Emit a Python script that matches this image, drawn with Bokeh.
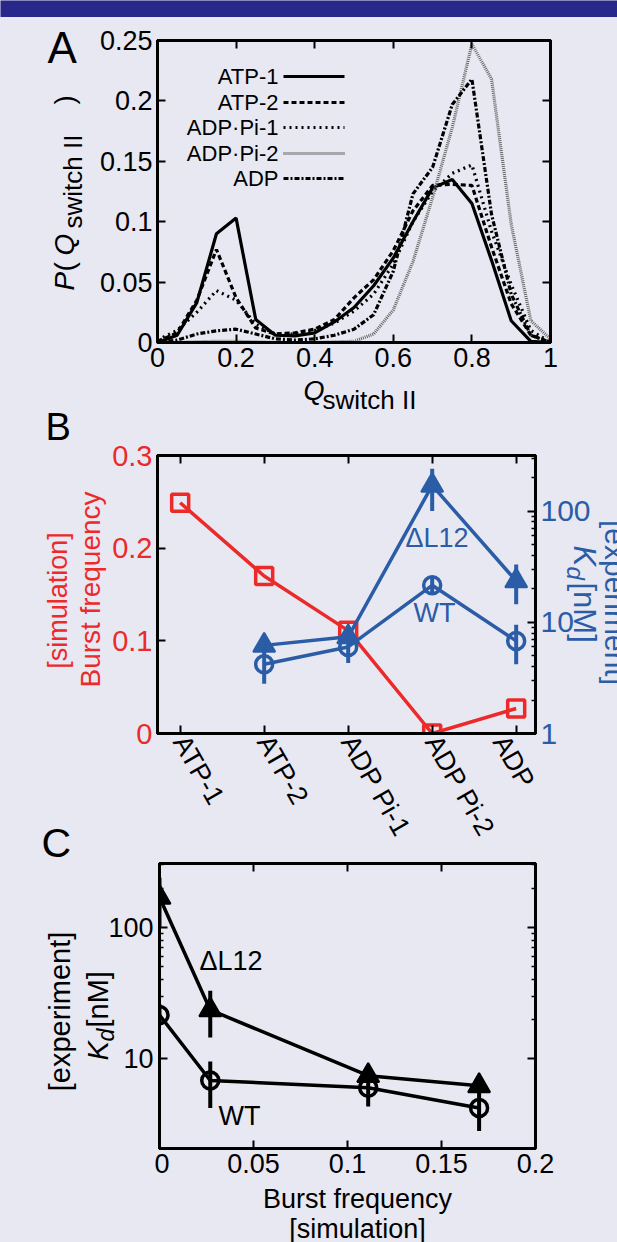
import math
from bokeh.plotting import figure
from bokeh.models import (Label, Range1d, LinearAxis, LogScale,
                          FixedTicker, PrintfTickFormatter)
from bokeh.core.properties import value
from bokeh.layouts import column, row
from bokeh.embed import file_html
from bokeh.resources import INLINE

BG = "#e8e8f2"
NAVY = "#28288a"
RED = "#ec2a2a"
BLUE = "#2b5ca6"
FONT = "Liberation Sans"

# ---------------- Panel A data ----------------
q_switch = [0.0, 0.05, 0.1, 0.15, 0.2, 0.25, 0.3, 0.35, 0.4, 0.45, 0.5,
            0.55, 0.6, 0.65, 0.7, 0.75, 0.8, 0.85, 0.9, 0.95, 1.0]
p_atp1 = [0.0, 0.006, 0.033, 0.09, 0.103, 0.019, 0.006, 0.0055, 0.008, 0.017, 0.029,
          0.047, 0.07, 0.1, 0.128, 0.135, 0.115, 0.068, 0.018, 0.001, 0.0]
p_atp2 = [0.001, 0.008, 0.035, 0.077, 0.037, 0.012, 0.007, 0.008, 0.011, 0.019, 0.037,
          0.052, 0.076, 0.109, 0.13, 0.131, 0.13, 0.079, 0.032, 0.006, 0.0]
p_adppi1 = [0.002, 0.01, 0.025, 0.043, 0.035, 0.015, 0.007, 0.007, 0.01, 0.016, 0.026,
            0.04, 0.065, 0.1, 0.125, 0.14, 0.147, 0.092, 0.048, 0.01, 0.0]
p_adppi2 = [0.0, 0.0, 0.0005, 0.001, 0.001, 0.0005, 0.0, 0.0, 0.0, 0.0005, 0.001,
            0.007, 0.027, 0.067, 0.12, 0.178, 0.247, 0.218, 0.098, 0.018, 0.003]
p_adp = [0.0, 0.002, 0.007, 0.0097, 0.011, 0.007, 0.003, 0.002, 0.003, 0.006, 0.011,
         0.023, 0.059, 0.123, 0.145, 0.197, 0.218, 0.106, 0.04, 0.006, 0.0]
series_names = ["ATP-1", "ATP-2", "ADP\u00b7Pi-1", "ADP\u00b7Pi-2", "ADP"]
a_xticks = [0, 0.2, 0.4, 0.6, 0.8, 1]
a_yticks = [0, 0.05, 0.1, 0.15, 0.2, 0.25]

# ---------------- Panel B / C data ----------------
states = ["ATP-1", "ATP-2", "ADP Pi-1", "ADP Pi-2", "ADP"]
burst = [0.249, 0.170, 0.111, 0.0, 0.027]
kd_states = ["ATP-2", "ADP Pi-1", "ADP Pi-2", "ADP"]
kd_wt = [4.2, 6.0, 21.5, 6.8]
kd_wt_lo = [2.8, 4.3, 18.0, 4.2]
kd_wt_hi = [5.7, 8.0, 26.0, 9.5]
kd_dl = [6.2, 7.4, 170.0, 23.5]
kd_dl_lo = [5.4, 6.5, 100.0, 14.5]
kd_dl_hi = [7.0, 8.5, 240.0, 33.0]
b_yticks = [0, 0.1, 0.2, 0.3]
kd_ticks = [1, 10, 100]
kd_tick_labels = ["1", "10", "100"]
kd_minor = [2, 3, 4, 5, 6, 7, 8, 9, 20, 30, 40, 50, 60, 70, 80, 90, 200, 300]
c_xticks = [0, 0.05, 0.1, 0.15, 0.2]

UP = math.pi / 2
DOWN = -math.pi / 2
MID = 0.35  # distance (em) from alphabetic baseline to the text's middle


def to_mid(px, py, size, angle):
    d = MID * size
    if angle == UP:
        return px - d, py
    if angle == DOWN:
        return px + d, py
    return px, py - d


class Geo:
    """Frame box in page pixels + data ranges."""
    def __init__(self, left, right, top, bottom, xr, yr, ylog=False):
        self.left, self.right, self.top, self.bottom = left, right, top, bottom
        self.xr, self.yr, self.ylog = xr, yr, ylog

    def x(self, px):
        return self.xr[0] + (px - self.left) / (self.right - self.left) * (self.xr[1] - self.xr[0])

    def y(self, py):
        f = (self.bottom - py) / (self.bottom - self.top)
        if self.ylog:
            a, b = math.log10(self.yr[0]), math.log10(self.yr[1])
            return 10 ** (a + f * (b - a))
        return self.yr[0] + f * (self.yr[1] - self.yr[0])


def plot_fig(g, X0, Y0, X1, Y1):
    p = figure(width=X1 - X0, height=Y1 - Y0, title=None,
               x_range=Range1d(*g.xr), y_range=Range1d(*g.yr),
               y_axis_type="log" if g.ylog else "linear",
               output_backend="svg", toolbar_location=None,
               min_border_left=g.left - X0, min_border_right=X1 - g.right,
               min_border_top=g.top - Y0, min_border_bottom=Y1 - g.bottom,
               background_fill_color=BG, border_fill_color=BG,
               outline_line_color="black", outline_line_width=3)
    p.xgrid.visible = False
    p.ygrid.visible = False
    return p


def style_axis(ax, ticker, size, color="black", minor=False):
    ax.ticker = ticker
    ax.formatter = PrintfTickFormatter(format="%g")
    ax.axis_line_width = 3
    ax.axis_line_color = "black"
    ax.major_tick_in = 8
    ax.major_tick_out = 0
    ax.major_tick_line_width = 2
    ax.minor_tick_in = 4 if minor else 0
    ax.minor_tick_out = 0
    ax.minor_tick_line_width = 1.5
    ax.major_label_text_font = FONT
    ax.major_label_text_font_size = f"{size}px"
    ax.major_label_text_color = color
    ax.major_label_standoff = 5


def hide_labels(ax):
    ax.major_label_text_font_size = "1px"
    ax.major_label_text_color = None
    ax.major_label_standoff = 0


def tick_only(p, side, ticker, minor=False, y_range_name="default"):
    ax = LinearAxis(y_range_name=y_range_name)
    style_axis(ax, ticker, 1, minor=minor)
    hide_labels(ax)
    p.add_layout(ax, side)


def flabel(p, g, s, px, py, size, color="black", align="left", baseline="alphabetic"):
    if baseline == "alphabetic":
        px, py = to_mid(px, py, size, 0.0)
    p.add_layout(Label(x=g.x(px), y=g.y(py), text=s, text_font=FONT,
                       text_font_size=f"{size}px", text_color=color,
                       text_align=align, text_baseline="middle"))


class TextCanvas:
    """A figure used only for text. x and y are page pixels (y may follow a log scale).
    xr: page-x span its frame really covers (a column aligns it with the plot above)."""
    def __init__(self, X0, X1, Y0, Y1, g=None, xr=None):
        self.g = g
        if g is None:
            yr, ytype = Range1d(Y1, Y0), "linear"
        else:
            yr, ytype = Range1d(g.y(Y1), g.y(Y0)), "log"
        xr = xr if xr is not None else (X0, X1)
        self.fig = figure(width=X1 - X0, height=Y1 - Y0, title=None,
                          x_range=Range1d(*xr), y_range=yr, y_axis_type=ytype,
                          x_axis_location=None, y_axis_location=None,
                          output_backend="svg", toolbar_location=None, min_border=0,
                          background_fill_color=BG, border_fill_color=BG,
                          outline_line_color=None)
        self.fig.grid.visible = False

    def py(self, py):
        return py if self.g is None else self.g.y(py)

    def put(self, s, px, py, size, color="black", align="left", angle=0.0, style="normal"):
        # (px, py) is the start/centre point on the alphabetic baseline
        mx, my = to_mid(px, py, size, angle)
        self.fig.text(x=[mx], y=[self.py(my)], text=[s], text_font=value(FONT),
                      text_font_size=f"{size}px", text_color=color, text_align=align,
                      text_baseline="middle", angle=angle, text_font_style=style)

    def tick_labels(self, vals, labels, px, size, color, align):
        self.fig.text(x=[px] * len(vals), y=vals, text=labels, text_font=value(FONT),
                      text_font_size=f"{size}px", text_color=color, text_align=align,
                      text_baseline="middle")


def strip(X0, X1, Y0):
    return TextCanvas(X0, X1, Y0, Y0 + 1).fig


# ---------------- top bar ----------------
bar = figure(width=617, height=17, title=None, x_range=Range1d(0, 1), y_range=Range1d(0, 1),
             x_axis_location=None, y_axis_location=None,
             output_backend="svg", toolbar_location=None, min_border=0,
             background_fill_color=NAVY, border_fill_color=NAVY, outline_line_color=None)
bar.grid.visible = False

# ---------------- Panel A ----------------
gA = Geo(157, 550, 40, 342, (0, 1), (0, 0.25))
pA = plot_fig(gA, 95, 18, 617, 380)
style_axis(pA.below[0], FixedTicker(ticks=a_xticks), 27)
style_axis(pA.left[0], FixedTicker(ticks=a_yticks), 27)
tick_only(pA, "above", FixedTicker(ticks=a_xticks))
tick_only(pA, "right", FixedTicker(ticks=a_yticks))

a_series = [p_atp1, p_atp2, p_adppi1, p_adppi2, p_adp]
a_dash = ["solid", "5 3", "2 4", "1 1", "5 2 2 2"]
a_color = ["black", "black", "black", "#666666", "black"]
for ys, dash, col in zip(a_series, a_dash, a_color):
    pA.line(q_switch, ys, line_width=3.2, line_dash=dash, line_color=col)

legend_rows = [76, 102, 127, 153, 178]
for name, rw, dash, col in zip(series_names, legend_rows, a_dash, a_color):
    flabel(pA, gA, name, 278, rw, 22, align="right", baseline="middle")
    pA.line([gA.x(283), gA.x(344)], [gA.y(rw), gA.y(rw)], line_width=3.2,
            line_dash=dash, line_color=col)

A_left = TextCanvas(0, 95, 17, 410)
A_left.put("A", 47, 62, 44)
A_left.put("P", 74, 290, 28, angle=UP, style="italic")
A_left.put("(", 74, 271, 28, angle=UP)
A_left.put("Q", 74, 255, 28, angle=UP, style="italic")
A_left.put("switch II", 82, 228, 26, angle=UP)
A_left.put(")", 74, 104, 28, angle=UP)

A_bot = TextCanvas(95, 617, 380, 410, xr=(gA.left, gA.right))
A_bot.put("Q", 303, 400, 27, style="italic")
A_bot.put("switch II", 322, 409, 26)

# ---------------- Panel B ----------------
gB = Geo(157, 535, 455, 733, (-0.27, 4.23), (0, 0.3))
gKd = Geo(157, 535, 455, 733, (-0.27, 4.23), (1, 316), ylog=True)
pB = plot_fig(gB, 108, 411, 540, 860)
pB.extra_y_ranges = {"kd": Range1d(1, 316)}
pB.extra_y_scales = {"kd": LogScale()}
idx = list(range(len(states)))
style_axis(pB.below[0], FixedTicker(ticks=idx), 27)
pB.below[0].major_label_overrides = {i: s for i, s in zip(idx, states)}
pB.below[0].major_label_orientation = -1.05
pB.below[0].major_label_standoff = 4
style_axis(pB.left[0], FixedTicker(ticks=b_yticks), 29, color=RED)
tick_only(pB, "right", FixedTicker(ticks=kd_ticks, minor_ticks=kd_minor), minor=True,
          y_range_name="kd")
tick_only(pB, "above", FixedTicker(ticks=idx))

pB.line(idx, burst, line_color=RED, line_width=3.5)
pB.scatter(idx, burst, marker="square", size=17, fill_color=None,
           line_color=RED, line_width=3.5)

kd_idx = [states.index(s) for s in kd_states]
pB.segment(kd_idx, kd_dl_lo, kd_idx, kd_dl_hi, y_range_name="kd", line_color=BLUE, line_width=4)
pB.segment(kd_idx, kd_wt_lo, kd_idx, kd_wt_hi, y_range_name="kd", line_color=BLUE, line_width=4)
pB.line(kd_idx, kd_dl, y_range_name="kd", line_color=BLUE, line_width=3.5)
pB.line(kd_idx, kd_wt, y_range_name="kd", line_color=BLUE, line_width=3.5)
pB.scatter(kd_idx, kd_dl, y_range_name="kd", marker="triangle", size=22,
           fill_color=BLUE, line_color=BLUE, line_width=2)
pB.scatter(kd_idx, kd_wt, y_range_name="kd", marker="circle", size=17,
           fill_color=None, line_color=BLUE, line_width=3.5)
flabel(pB, gB, "\u0394L12", 405, 547, 27, color=BLUE)
flabel(pB, gB, "WT", 413, 622, 27, color=BLUE)

B_left = TextCanvas(0, 108, 410, 861)
B_left.put("B", 45, 440, 38)
B_left.put("[simulation]", 67, 600, 27, color=RED, align="center", angle=UP)
B_left.put("Burst frequency", 100, 589, 28, color=RED, align="center", angle=UP)
B_left.put("C", 41, 857, 41)

B_right = TextCanvas(540, 617, 410, 861, g=gKd)
B_right.tick_labels(kd_ticks, kd_tick_labels, 540, 30, BLUE, "left")
B_right.put("K", 573, 545, 31, color=BLUE, angle=DOWN, style="italic")
B_right.put("d", 567, 566, 24, color=BLUE, angle=DOWN, style="italic")
B_right.put("[nM]", 573, 582, 31, color=BLUE, angle=DOWN)
B_right.put("[experiment]", 604, 602, 30, color=BLUE, align="center", angle=DOWN)

# ---------------- Panel C ----------------
gC = Geo(159, 535, 863, 1148, (0, 0.2), (2.06, 308), ylog=True)
pC = plot_fig(gC, 154, 862, 617, 1186)
style_axis(pC.below[0], FixedTicker(ticks=c_xticks), 27)
style_axis(pC.left[0], FixedTicker(ticks=kd_ticks[1:], minor_ticks=kd_minor[8:]), 1, minor=True)
hide_labels(pC.left[0])
tick_only(pC, "above", FixedTicker(ticks=c_xticks))
tick_only(pC, "right", FixedTicker(ticks=kd_ticks[1:], minor_ticks=kd_minor[8:]), minor=True)

kd_burst = [burst[states.index(s)] for s in kd_states]
order = sorted(range(len(kd_states)), key=lambda i: kd_burst[i])
cx = [kd_burst[i] for i in order]
c_dl = [kd_dl[i] for i in order]
c_wt = [kd_wt[i] for i in order]
pC.segment(kd_burst, kd_dl_lo, kd_burst, kd_dl_hi, line_color="black", line_width=4)
pC.segment(kd_burst, kd_wt_lo, kd_burst, kd_wt_hi, line_color="black", line_width=4)
pC.line(cx, c_dl, line_color="black", line_width=3.5)
pC.line(cx, c_wt, line_color="black", line_width=3.5)
pC.scatter(cx, c_dl, marker="triangle", size=22, fill_color="black",
           line_color="black", line_width=2)
pC.scatter(cx, c_wt, marker="circle", size=17, fill_color=None,
           line_color="black", line_width=3.5)
flabel(pC, gC, "\u0394L12", 199, 970, 27)
flabel(pC, gC, "WT", 218, 1125, 27)

C_left = TextCanvas(0, 154, 861, 1242, g=gC)
C_left.tick_labels(kd_ticks[1:], kd_tick_labels[1:], 153, 27, "black", "right")
C_left.put("[experiment]", 70, 1011, 29, align="center", angle=UP)
C_left.put("K", 108, 1060, 29, angle=UP, style="italic")
C_left.put("d", 114, 1041, 23, angle=UP, style="italic")
C_left.put("[nM]", 108, 1027, 29, angle=UP)

C_bot = TextCanvas(154, 617, 1186, 1242, xr=(gC.left, gC.right))
C_bot.put("Burst frequency", 357, 1208, 27, align="center")
C_bot.put("[simulation]", 357, 1238, 27, align="center")

layout = column(
    bar,
    row(A_left.fig, column(strip(95, 617, 17), pA, A_bot.fig)),
    row(B_left.fig, column(strip(108, 540, 410), pB, strip(108, 540, 860)), B_right.fig),
    row(C_left.fig, column(strip(154, 617, 861), pC, C_bot.fig)),
    styles={"background-color": BG},
)
open("out.html", "w").write(file_html(layout, INLINE))
